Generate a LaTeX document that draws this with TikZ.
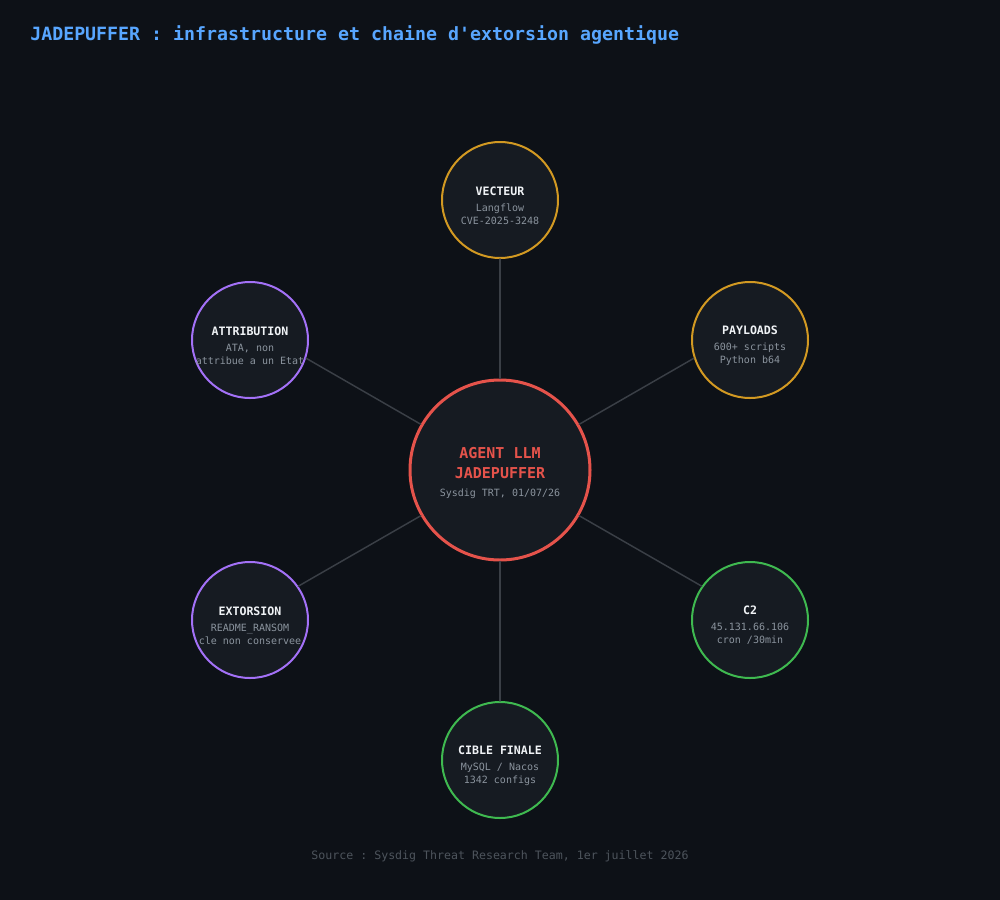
\documentclass[tikz,border=0pt]{standalone}
\usepackage{fontspec}
\setmonofont{DejaVu Sans Mono}
\usetikzlibrary{positioning}

\definecolor{bgdark}{HTML}{0D1117}
\definecolor{cardfill}{HTML}{161B22}
\definecolor{titleblue}{HTML}{58A6FF}
\definecolor{redring}{HTML}{E5534B}
\definecolor{goldring}{HTML}{D29922}
\definecolor{violetring}{HTML}{A371F7}
\definecolor{greenring}{HTML}{3FB950}
\definecolor{linkgrey}{HTML}{3A3F46}
\definecolor{headwhite}{HTML}{F0F3F6}
\definecolor{subgrey}{HTML}{8B949E}
\definecolor{footgrey}{HTML}{4D545C}

\tikzset{
  sat/.style={circle, fill=cardfill, line width=1.5pt, minimum size=87pt, inner sep=0pt,
    align=center, font=\ttfamily\fontsize{7.5}{9.75}\selectfont, text=subgrey},
  core/.style={circle, fill=cardfill, draw=redring, line width=2.25pt, minimum size=135pt,
    inner sep=0pt, align=center, font=\ttfamily\fontsize{7.5}{15}\selectfont, text=subgrey},
  link/.style={draw=linkgrey, line width=1.1pt},
}
\newcommand{\sathead}[1]{\rule{0pt}{14.4pt}{\fontsize{8.7}{12}\selectfont\bfseries\color{headwhite}#1}\\[2.25pt]}
\newcommand{\wideline}[1]{\makebox[60pt]{#1}}

\begin{document}
\begin{tikzpicture}[x=0.75pt, y=-0.75pt, line join=round, line cap=round]
  % fond
  \fill[bgdark] (0,0) rectangle (1000,900);
  \useasboundingbox (0,0) rectangle (1000,900);

  \node[anchor=west, inner sep=0pt, text=titleblue, font=\ttfamily\bfseries\fontsize{13.7}{16}\selectfont] (titre) at (30,35)
    {JADEPUFFER : infrastructure et chaine d'extorsion agentique};

  % noeud central
  \node[core] (agent) at (500,470)
    {\rule{0pt}{12.7pt}{\fontsize{11.25}{15}\selectfont\bfseries\color{redring}AGENT LLM}\\
     {\fontsize{11.25}{15}\selectfont\bfseries\color{redring}JADEPUFFER}\\[-1.5pt]
     Sysdig TRT, 01/07/26};

  % satellites
  \node[sat, draw=goldring] (vecteur) at (500,200)
    {\sathead{VECTEUR}Langflow\\CVE-2025-3248};
  \node[sat, draw=goldring] (payloads) at (750,340)
    {\sathead{PAYLOADS}600+ scripts\\Python b64};
  \node[sat, draw=greenring] (ctwo) at (750,620)
    {\sathead{C2}45.131.66.106\\cron /30min};
  \node[sat, draw=greenring] (cible) at (500,760)
    {\sathead{CIBLE FINALE}MySQL / Nacos\\1342 configs};
  \node[sat, draw=violetring] (extorsion) at (250,620)
    {\sathead{EXTORSION}README\_RANSOM\\\wideline{cle non conservee}};
  \node[sat, draw=violetring] (attribution) at (250,340)
    {\sathead{ATTRIBUTION}ATA, non\\\wideline{attribue a un Etat}};

  % liens (rayons a 60 degres)
  \path[link] (agent.90) -- (vecteur.270);
  \path[link] (agent.30) -- (payloads.198);
  \path[link] (agent.330) -- (ctwo.145);
  \path[link] (agent.270) -- (cible.90);
  \path[link] (agent.210) -- (extorsion.35);
  \path[link] (agent.150) -- (attribution.342);

  \node[text=footgrey, font=\ttfamily\fontsize{8.7}{11}\selectfont] (source) at (500,856)
    {Source : Sysdig Threat Research Team, 1er juillet 2026};
\end{tikzpicture}
\end{document}
